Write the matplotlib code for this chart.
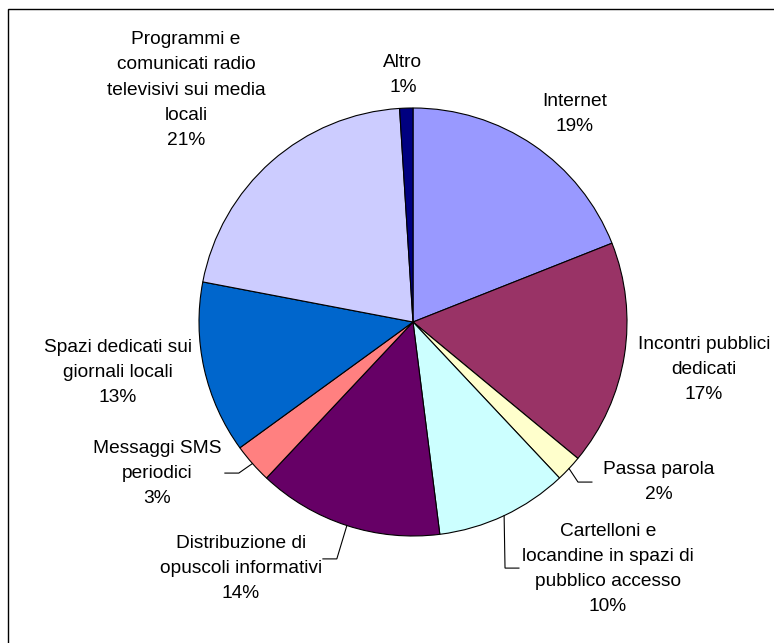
import matplotlib
matplotlib.use('Agg')
import matplotlib.pyplot as plt
from matplotlib.patches import Rectangle
import numpy as np

# Canali di comunicazione preferiti (% delle risposte)
categories = [
    'Internet',
    'Incontri pubblici\ndedicati',
    'Passa parola',
    'Cartelloni e\nlocandine in spazi di\npubblico accesso',
    'Distribuzione di\nopuscoli informativi',
    'Messaggi SMS\nperiodici',
    'Spazi dedicati sui\ngiornali locali',
    'Programmi e\ncomunicati radio\ntelevisivi sui media\nlocali',
    'Altro',
]
percentages = [19, 17, 2, 10, 14, 3, 13, 21, 1]

COLORS = ['#9999FF', '#993366', '#FFFFCC', '#CCFFFF', '#660066',
          '#FF8080', '#0066CC', '#CCCCFF', '#000080']

# label centres, in pie-radius units
LABEL_POS = [
    (0.757, 0.972),
    (1.360, -0.220),
    (1.150, -0.748),
    (0.911, -1.154),
    (-0.804, -1.150),
    (-1.197, -0.710),
    (-1.379, -0.234),
    (-1.061, 1.084),
    (-0.047, 1.154),
]
# leader line ends for the labels that sit away from their wedge
LEADER_END = {
    2: (0.836, -0.748),
    3: (0.495, -1.150),
    4: (-0.421, -1.107),
    5: (-0.879, -0.706),
}

W, H = 774, 643
CX, CY, R = 413, 322, 214  # pie centre / radius in pixels

fig = plt.figure(figsize=(W / 100, H / 100), dpi=100)
ax = fig.add_axes([0, 0, 1, 1])

wedges, _ = ax.pie(percentages, colors=COLORS, startangle=90,
                   counterclock=False, radius=1.0,
                   wedgeprops=dict(edgecolor='black', linewidth=0.8))

ax.set_xlim(-CX / R, (W - CX) / R)
ax.set_ylim(-(H - CY) / R, CY / R)
ax.set_aspect('equal')
ax.axis('off')

font = dict(family='Liberation Sans', fontsize=13.8, color='black')
for i, (label, pct) in enumerate(zip(categories, percentages)):
    x, y = LABEL_POS[i]
    ax.text(x, y, f'{label}\n{pct}%', ha='center', va='center',
            multialignment='center', linespacing=1.62, **font)

    if i in LEADER_END:
        w = wedges[i]
        mid = np.deg2rad((w.theta1 + w.theta2) / 2)
        sx, sy = np.cos(mid), np.sin(mid)
        ex, ey = LEADER_END[i]
        elbow_x = ex - 0.065 if ex > 0 else ex + 0.065
        ax.plot([sx, elbow_x, ex], [sy, ey, ey], color='black', lw=0.8,
                solid_joinstyle='miter')

# chart area border
fig.patches.append(Rectangle((8 / W, -0.05), 1.1, 1 - 9 / H + 0.05,
                             transform=fig.transFigure, fill=False,
                             edgecolor='black', linewidth=1.0))

fig.savefig('out.png', dpi=100)
